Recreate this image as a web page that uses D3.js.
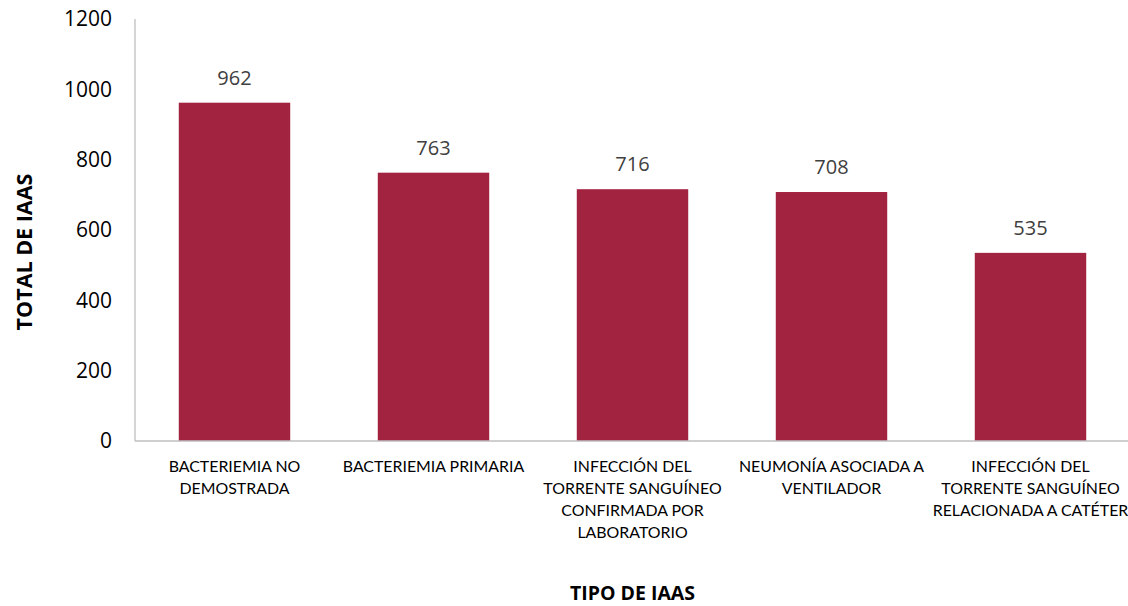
<!DOCTYPE html>
<html><head><meta charset="utf-8">
<script src="https://cdn.jsdelivr.net/npm/d3@7"></script>
<style>body{margin:0;background:#fff}svg{display:block}</style>
</head><body>
<svg id="c" width="1128" height="606"></svg>
<script>
const categories = [
  ["BACTERIEMIA NO", "DEMOSTRADA"],
  ["BACTERIEMIA PRIMARIA"],
  ["INFECCIÓN DEL", "TORRENTE SANGUÍNEO", "CONFIRMADA POR", "LABORATORIO"],
  ["NEUMONÍA ASOCIADA A", "VENTILADOR"],
  ["INFECCIÓN DEL", "TORRENTE SANGUÍNEO", "RELACIONADA A CATÉTER"]
];
const values = [962, 763, 716, 708, 535];
const yTicks = [0, 200, 400, 600, 800, 1000, 1200];
const yTitle = "TOTAL DE IAAS";
const xTitle = "TIPO DE IAAS";

(function () {
const font = "'Open Sans', sans-serif";
const catFont = "Lato, 'Open Sans', sans-serif";
const svg = d3.select("#c");
const mL = 135, mR = 1130, mT = 19, mB = 441;
const x = d3.scaleBand().domain(d3.range(values.length)).range([mL, mR]).paddingInner(0.44).paddingOuter(0.22);
const y = d3.scaleLinear().domain([0, 1200]).range([mB, mT]);

svg.append("line").attr("x1", mL).attr("x2", mL).attr("y1", mT).attr("y2", mB).attr("stroke", "#bfbfbf").attr("stroke-width", 1.3);

svg.selectAll("rect.bar").data(values).join("rect")
  .attr("x", (d, i) => x(i)).attr("width", x.bandwidth())
  .attr("y", d => y(d)).attr("height", d => mB - y(d))
  .attr("fill", "#A12340");

svg.append("line").attr("x1", mL).attr("x2", mR).attr("y1", mB).attr("y2", mB).attr("stroke", "#bfbfbf").attr("stroke-width", 1.3);

const yAxis = d3.axisLeft(y).tickValues(yTicks).tickFormat(d3.format("d")).tickSize(0).tickPadding(23);
const ga = svg.append("g").attr("transform", `translate(${mL},0)`).call(yAxis);
ga.select(".domain").remove();
ga.selectAll("text").attr("font-family", font).attr("font-size", 21).attr("fill", "#000");

svg.selectAll("text.val").data(values).join("text")
  .attr("x", (d, i) => x(i) + x.bandwidth() / 2).attr("y", d => y(d) - 18)
  .attr("text-anchor", "middle").attr("font-family", font).attr("font-size", 20).attr("fill", "#404040")
  .text(d => d);

categories.forEach((lines, i) => {
  const t = svg.append("text").attr("text-anchor", "middle").attr("font-family", catFont).attr("font-size", 15.9).attr("fill", "#000");
  lines.forEach((l, j) => {
    t.append("tspan").attr("x", x(i) + x.bandwidth() / 2).attr("y", 472 + j * 22).text(l);
  });
});

svg.append("text").attr("x", (mL + mR) / 2).attr("y", 600).attr("text-anchor", "middle")
  .attr("font-family", font).attr("font-size", 19.5).attr("font-weight", "bold").text(xTitle);
svg.append("text").attr("transform", `translate(32,252) rotate(-90)`).attr("text-anchor", "middle")
  .attr("font-family", font).attr("font-size", 21.5).attr("font-weight", "bold").text(yTitle);
})();
</script>
</body></html>
